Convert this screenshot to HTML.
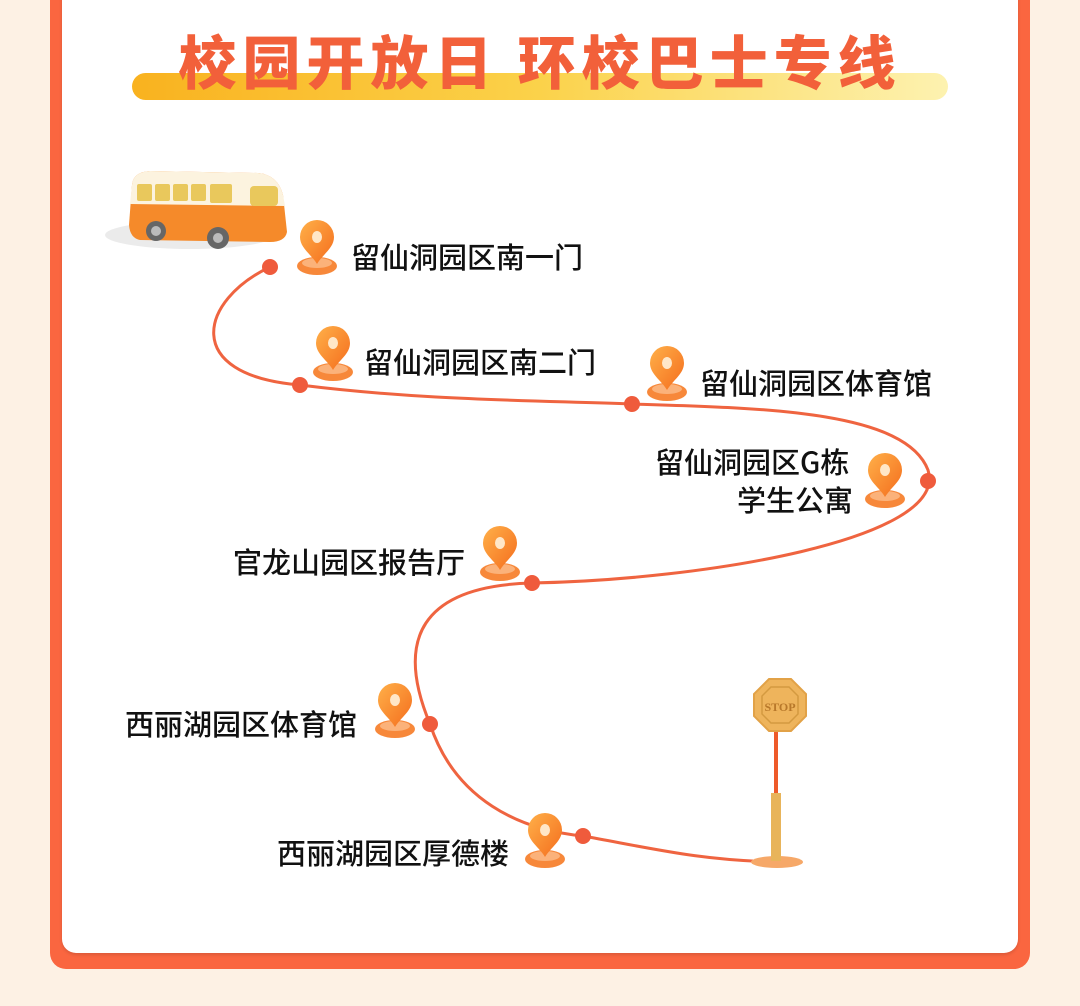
<!DOCTYPE html>
<html><head><meta charset="utf-8"><style>
html,body{margin:0;padding:0;}
body{width:1080px;height:1006px;background:#fdf1e4;position:relative;overflow:hidden;font-family:"Liberation Sans","Noto Sans CJK SC",sans-serif;}
.frame{position:absolute;left:50px;top:-20px;width:980px;height:989px;background:#fa6640;border-radius:0 0 16px 16px;}
.panel{position:absolute;left:62px;top:-20px;width:956px;height:973px;background:#fff;border-radius:0 0 14px 14px;box-shadow:0 2px 3px rgba(0,0,0,.12);}
.bar{position:absolute;left:132px;top:73px;width:816px;height:27px;border-radius:14px;background:linear-gradient(90deg,#f9b21f,#fbd24a 50%,#fdf2b0);}
.title{position:absolute;left:0;width:1080px;top:24px;text-align:center;font-size:58px;font-weight:900;color:#f2603a;letter-spacing:6px;line-height:70px;font-family:"Noto Sans CJK SC",sans-serif;}
.lb{position:absolute;font-size:29px;font-weight:500;color:#111;line-height:38px;white-space:nowrap;font-family:"Noto Sans CJK SC",sans-serif;}
svg{position:absolute;left:0;top:0;}
</style></head><body>
<div class="frame"></div>
<div class="panel"></div>
<div class="bar"></div>
<div class="title">校园开放日 环校巴士专线</div>
<svg width="1080" height="1006" viewBox="0 0 1080 1006">
<defs>
<linearGradient id="pg" x1="0" y1="0" x2="1" y2="1"><stop offset="0" stop-color="#ffb049"/><stop offset="1" stop-color="#f46d1d"/></linearGradient>
<g id="pin">
<ellipse cx="0" cy="44" rx="20" ry="9" fill="#f7883a"/>
<ellipse cx="0" cy="41" rx="15" ry="5" fill="#fbb27a"/>
<path d="M0 42 C-6 32 -17 26 -17 15 A17 17 0 0 1 17 15 C17 26 6 32 0 42Z" fill="url(#pg)"/>
<ellipse cx="0" cy="15" rx="5" ry="6" fill="#ffe7c8"/>
</g>
</defs>
<path d="M270 267 C200 300 180 375 300 385 C420 400 520 400 632 404 C760 408 905 410 928 470 C950 540 700 580 532 583 C420 586 395 640 430 724 C455 800 520 830 583 836 C660 850 700 860 775 862" fill="none" stroke="#ef6440" stroke-width="3"/>
<g fill="#ef5b3c">
<circle cx="270" cy="267" r="8"/><circle cx="300" cy="385" r="8"/><circle cx="632" cy="404" r="8"/><circle cx="928" cy="481" r="8"/><circle cx="532" cy="583" r="8"/><circle cx="430" cy="724" r="8"/><circle cx="583" cy="836" r="8"/>
</g>
<use href="#pin" x="317" y="222"/>
<use href="#pin" x="333" y="328"/>
<use href="#pin" x="667" y="348"/>
<use href="#pin" x="885" y="455"/>
<use href="#pin" x="500" y="528"/>
<use href="#pin" x="395" y="685"/>
<use href="#pin" x="545" y="815"/>
<!-- bus -->
<ellipse cx="190" cy="235" rx="85" ry="14" fill="#ddd" opacity=".6"/>
<path d="M132 185 Q133 172 150 171 L258 173 Q278 175 283 195 L287 232 Q285 242 270 242 L140 240 Q130 238 129 225Z" fill="#f58a2a"/>
<path d="M132 185 Q133 172 150 171 L258 173 Q278 175 283 195 L285 206 L130 204Z" fill="#fcf3df"/>
<g fill="#e9c85c"><rect x="137" y="184" width="15" height="17" rx="2"/><rect x="155" y="184" width="15" height="17" rx="2"/><rect x="173" y="184" width="15" height="17" rx="2"/><rect x="191" y="184" width="15" height="17" rx="2"/><rect x="210" y="184" width="22" height="19" rx="2"/><rect x="250" y="186" width="28" height="20" rx="4"/></g>
<circle cx="156" cy="231" r="10" fill="#666"/><circle cx="156" cy="231" r="5" fill="#bbb"/>
<circle cx="218" cy="238" r="11" fill="#666"/><circle cx="218" cy="238" r="5" fill="#bbb"/>
<!-- stop sign -->
<ellipse cx="777" cy="862" rx="26" ry="6" fill="#f6a868"/>
<rect x="774" y="730" width="4" height="65" fill="#ee5a2a"/>
<rect x="771" y="793" width="10" height="68" fill="#e8b45a"/>
<polygon points="769,679 791,679 806,694 806,716 791,731 769,731 754,716 754,694" fill="#eeb45c" stroke="#e2a247" stroke-width="2"/>
<polygon points="771,687 789,687 798,696 798,714 789,723 771,723 762,714 762,696" fill="none" stroke="#d49a40" stroke-width="1.5"/>
<text x="780" y="711" font-size="12" font-family="Liberation Serif,serif" font-weight="bold" fill="#b8782a" text-anchor="middle">STOP</text>
</svg>
<div class="lb" style="left:351px;top:237px;">留仙洞园区南一门</div>
<div class="lb" style="left:364px;top:342px;">留仙洞园区南二门</div>
<div class="lb" style="left:700px;top:363px;">留仙洞园区体育馆</div>
<div class="lb" style="left:655px;top:442px;">留仙洞园区G栋</div>
<div class="lb" style="left:737px;top:480px;">学生公寓</div>
<div class="lb" style="left:233px;top:542px;">官龙山园区报告厅</div>
<div class="lb" style="left:125px;top:704px;">西丽湖园区体育馆</div>
<div class="lb" style="left:277px;top:833px;">西丽湖园区厚德楼</div>
</body></html>
